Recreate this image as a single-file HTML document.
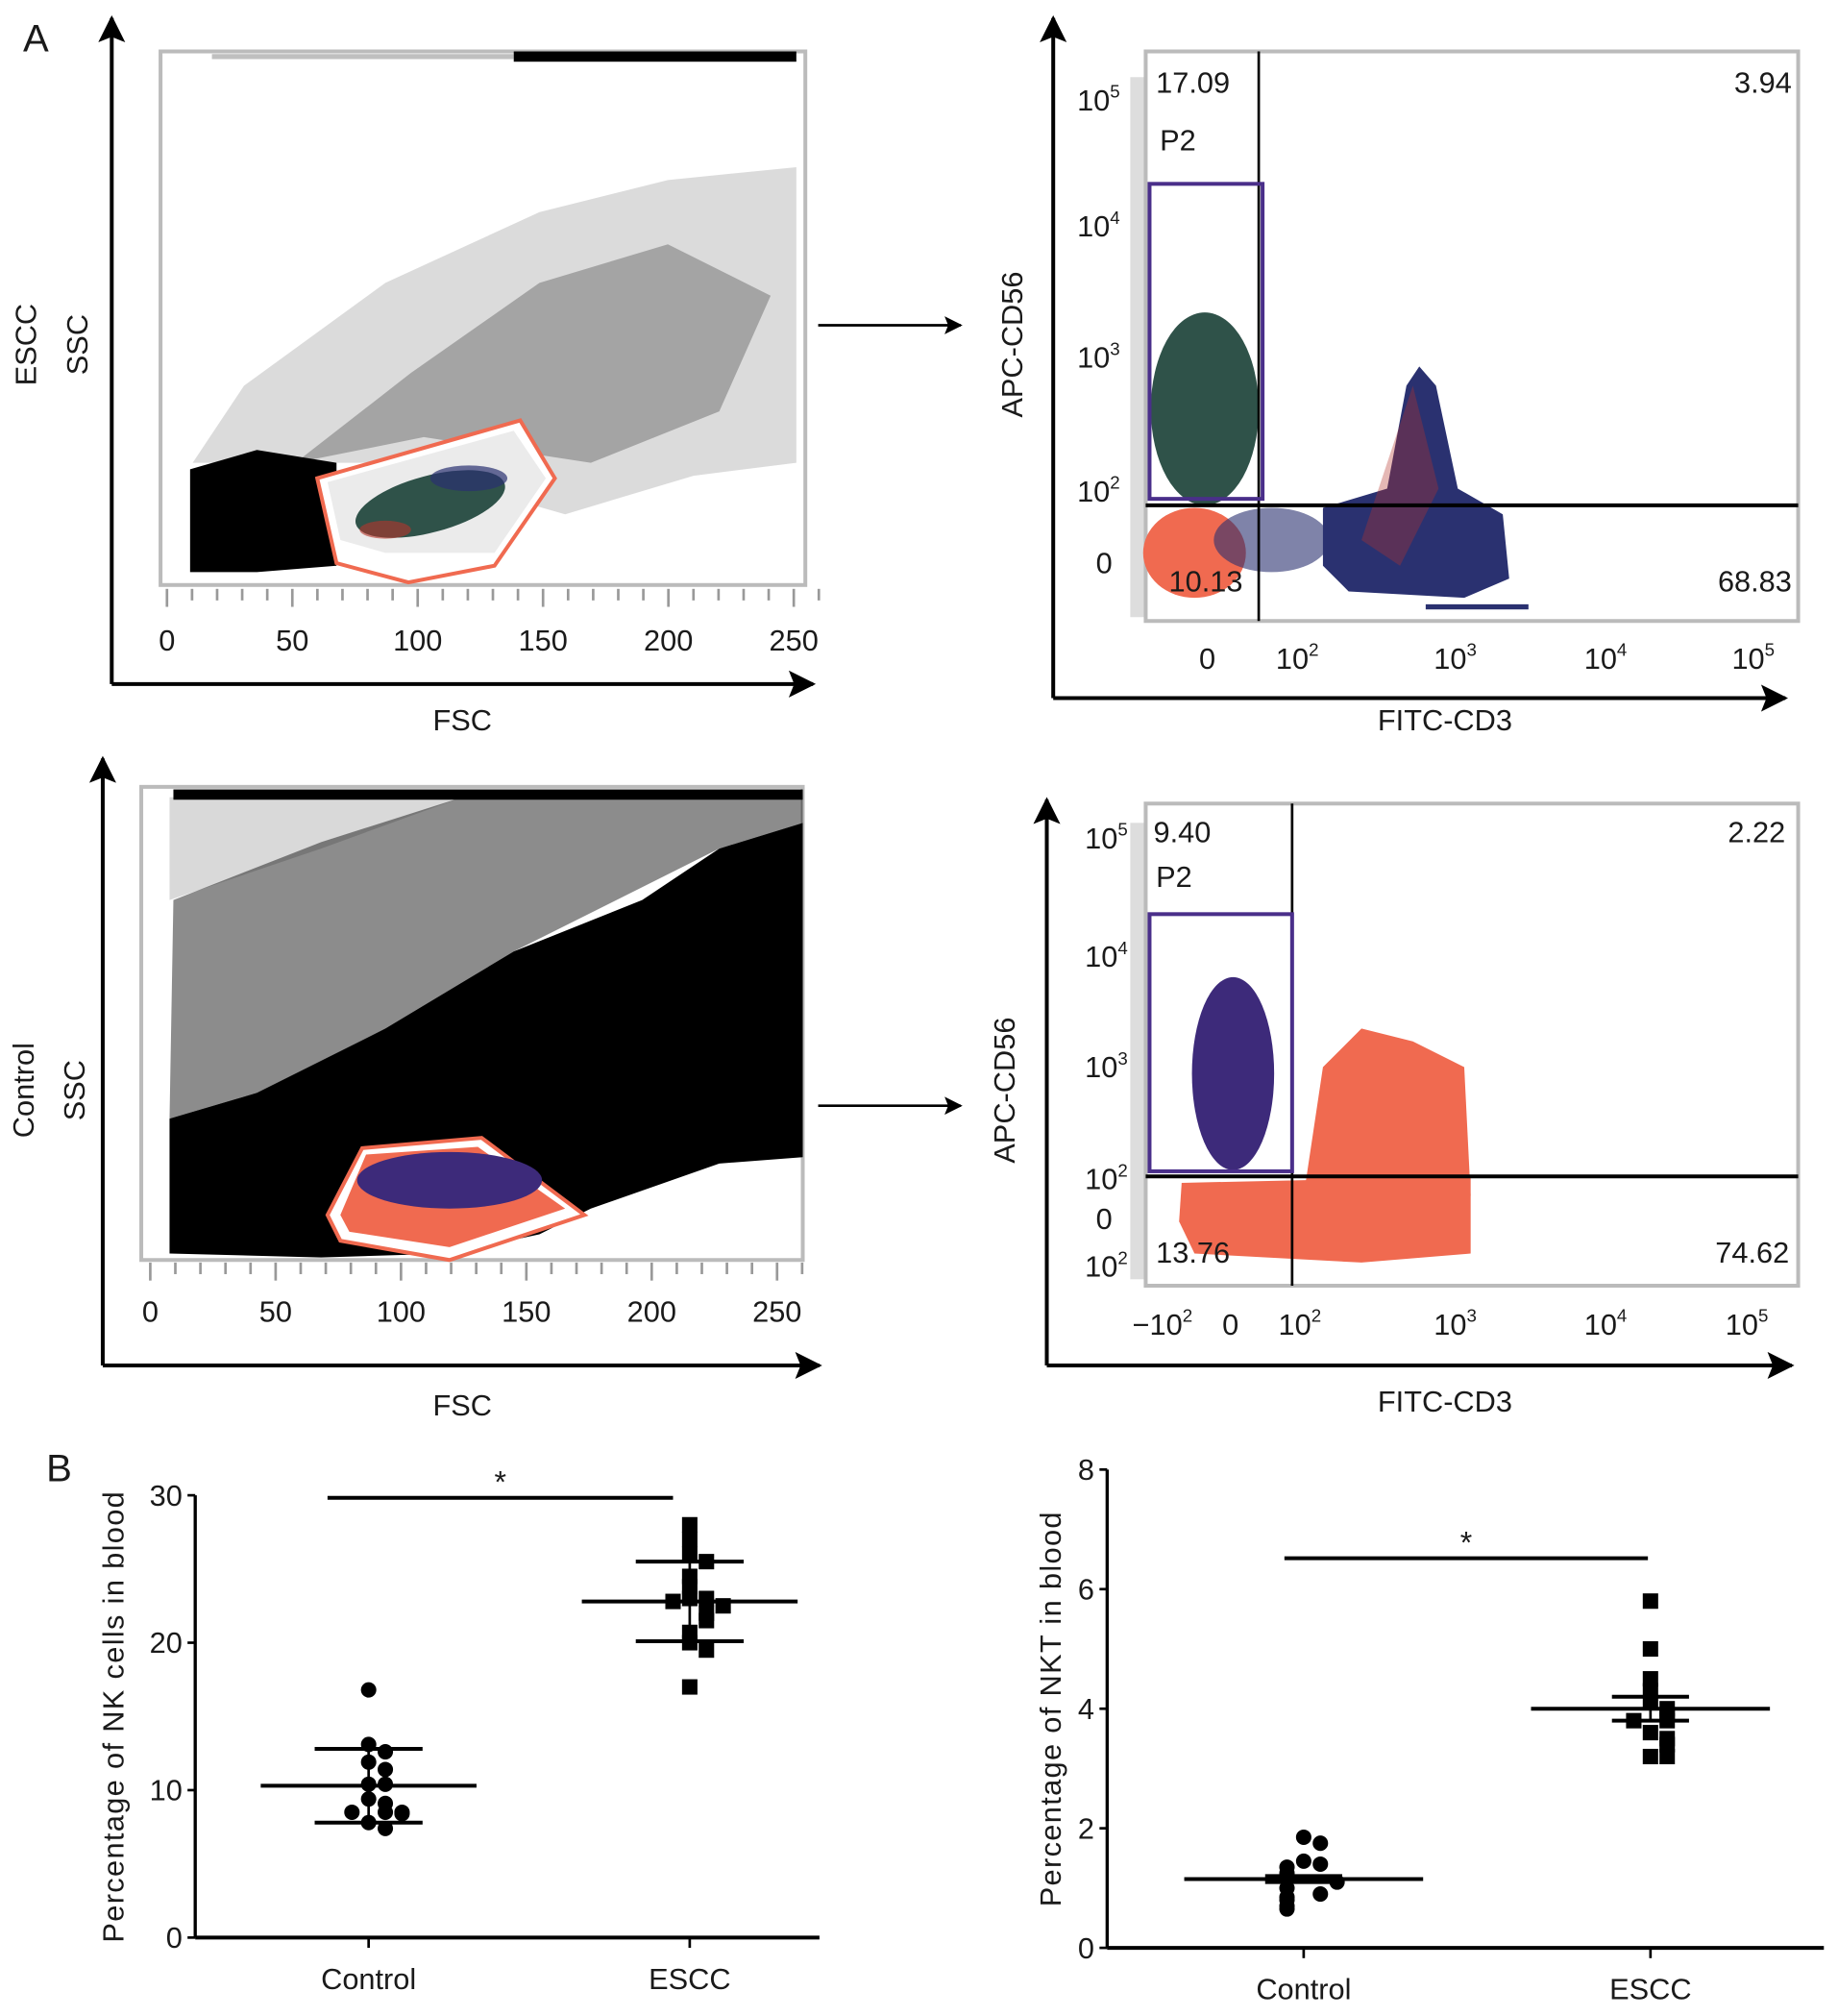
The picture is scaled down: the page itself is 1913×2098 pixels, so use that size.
<!DOCTYPE html>
<html><head><meta charset="utf-8"><style>
html,body{margin:0;padding:0;background:#fff}
svg{display:block}
text{font-family:"Liberation Sans",sans-serif;fill:#1a1a1a}
</style></head><body>
<svg id="fig" width="1913" height="2098" viewBox="0 0 1431 1568" preserveAspectRatio="none" xmlns="http://www.w3.org/2000/svg">
<defs>
<marker id="ah" viewBox="0 0 10 10" refX="9" refY="5" markerWidth="7" markerHeight="7" orient="auto"><path d="M0,0 L10,5 L0,10 L2,5 z" fill="#000"/></marker>
</defs>
<text x="18" y="40" font-size="30">A</text>
<text x="36" y="1152" font-size="30">B</text>

<!-- Top-left FSC/SSC ESCC -->
<g>
<line x1="87" y1="532" x2="87" y2="14" stroke="#000" stroke-width="3" marker-end="url(#ah)"/>
<line x1="87" y1="532" x2="633" y2="532" stroke="#000" stroke-width="3" marker-end="url(#ah)"/>
<rect x="125" y="40" width="502" height="415" fill="none" stroke="#bbb" stroke-width="3"/>
<path d="M150,360 L190,300 L300,220 L420,165 L520,140 L620,130 L620,360 L540,370 L440,400 L300,360 L200,360Z" fill="#000" opacity="0.14"/>
<path d="M230,360 L320,290 L420,220 L520,190 L600,230 L560,320 L460,360 L330,340Z" fill="#000" opacity="0.25"/>
<path d="M148,365 L200,350 L262,360 L262,440 L200,445 L148,445Z" fill="#000"/>
<rect x="400" y="40" width="220" height="8" fill="#000"/>
<path d="M165,42 L400,42 L400,46 L165,46Z" fill="#000" opacity="0.25"/>
<path d="M247,372 L405,327 L432,372 L385,440 L318,453 L262,438Z" fill="#fff" stroke="#f06a50" stroke-width="3"/>
<path d="M255,375 L400,335 L425,372 L385,430 L300,430 L265,420Z" fill="#000" opacity="0.08"/>
<ellipse cx="335" cy="392" rx="60" ry="22" fill="#2f5249" transform="rotate(-15 335 392)"/>
<ellipse cx="365" cy="372" rx="30" ry="10" fill="#2a3170" opacity="0.7"/>
<ellipse cx="300" cy="412" rx="20" ry="7" fill="#b5352c" opacity="0.6"/>
<g id="tlx"></g>
<text x="360" y="568" font-size="23" text-anchor="middle">FSC</text>
<text transform="translate(28 268) rotate(-90)" font-size="23" text-anchor="middle">ESCC</text>
<text transform="translate(68 268) rotate(-90)" font-size="23" text-anchor="middle">SSC</text>
</g>
<line x1="637" y1="253" x2="748" y2="253" stroke="#000" stroke-width="2" marker-end="url(#ah)"/>

<!-- Top-right -->
<g>
<line x1="820" y1="543" x2="820" y2="14" stroke="#000" stroke-width="3" marker-end="url(#ah)"/>
<line x1="820" y1="543" x2="1390" y2="543" stroke="#000" stroke-width="3" marker-end="url(#ah)"/>
<rect x="892" y="40" width="508" height="443" fill="none" stroke="#bbb" stroke-width="3"/>
<rect x="880" y="60" width="12" height="420" fill="#bbb" opacity="0.5"/>
<ellipse cx="938" cy="318" rx="42" ry="75" fill="#2f5249"/>
<ellipse cx="930" cy="430" rx="40" ry="35" fill="#f06a50"/>
<ellipse cx="990" cy="420" rx="45" ry="25" fill="#2a3170" opacity="0.6"/>
<path d="M1030,395 L1080,380 L1095,300 L1105,285 L1118,300 L1135,380 L1170,400 L1175,450 L1140,465 L1050,460 L1030,440Z" fill="#2a3170"/>
<path d="M1060,420 L1100,300 L1120,380 L1090,440Z" fill="#b5352c" opacity="0.35"/>
<rect x="1110" y="470" width="80" height="4" fill="#2a3170"/>
<line x1="980" y1="40" x2="980" y2="483" stroke="#000" stroke-width="2"/>
<line x1="892" y1="393" x2="1400" y2="393" stroke="#000" stroke-width="3"/>
<rect x="895" y="143" width="88" height="245" fill="none" stroke="#4a2f8a" stroke-width="3"/>
<text x="900" y="72" font-size="23">17.09</text><text x="1395" y="72" font-size="23" text-anchor="end">3.94</text>
<text x="903" y="117" font-size="23">P2</text><text x="910" y="460" font-size="23">10.13</text>
<text x="1395" y="460" font-size="23" text-anchor="end">68.83</text>
<g font-size="23" text-anchor="end">
<text x="872" y="86">10<tspan dy="-10" font-size="14">5</tspan></text>
<text x="872" y="184">10<tspan dy="-10" font-size="14">4</tspan></text>
<text x="872" y="286">10<tspan dy="-10" font-size="14">3</tspan></text>
<text x="872" y="390">10<tspan dy="-10" font-size="14">2</tspan></text>
<text x="866" y="446">0</text></g>
<g font-size="23" text-anchor="middle">
<text x="940" y="520">0</text><text x="1010" y="520">10<tspan dy="-10" font-size="14">2</tspan></text>
<text x="1133" y="520">10<tspan dy="-10" font-size="14">3</tspan></text><text x="1250" y="520">10<tspan dy="-10" font-size="14">4</tspan></text>
<text x="1365" y="520">10<tspan dy="-10" font-size="14">5</tspan></text></g>
<text x="1125" y="568" font-size="23" text-anchor="middle">FITC-CD3</text>
<text transform="translate(796 268) rotate(-90)" font-size="23" text-anchor="middle">APC-CD56</text>
</g>

<!-- Bottom-left -->
<g>
<line x1="80" y1="1062" x2="80" y2="590" stroke="#000" stroke-width="3" marker-end="url(#ah)"/>
<line x1="80" y1="1062" x2="638" y2="1062" stroke="#000" stroke-width="3" marker-end="url(#ah)"/>
<rect x="110" y="612" width="515" height="368" fill="none" stroke="#bbb" stroke-width="3"/>
<path d="M132,700 L132,620 L360,620 L250,660Z" fill="#000" opacity="0.15"/>
<path d="M132,870 L135,700 L250,655 L360,620 L625,618 L625,640 L560,660 L400,740 L300,800 L200,850Z" fill="#000" opacity="0.45"/>
<path d="M132,975 L132,870 L200,850 L300,800 L400,740 L500,700 L560,660 L625,640 L625,900 L560,905 L460,940 L420,960 L350,975 L250,978Z" fill="#000"/>
<rect x="135" y="614" width="490" height="8" fill="#000"/>
<path d="M255,945 L282,893 L375,885 L455,945 L350,980 L265,965Z" fill="#fff" stroke="#f06a50" stroke-width="3"/>
<path d="M265,945 L285,898 L372,892 L440,940 L350,970 L272,958Z" fill="#f06a50"/>
<ellipse cx="350" cy="918" rx="72" ry="22" fill="#3d2a7a"/>
<g id="blx"></g>
<text x="360" y="1101" font-size="23" text-anchor="middle">FSC</text>
<text transform="translate(26 848) rotate(-90)" font-size="23" text-anchor="middle">Control</text>
<text transform="translate(66 848) rotate(-90)" font-size="23" text-anchor="middle">SSC</text>
</g>
<line x1="637" y1="860" x2="748" y2="860" stroke="#000" stroke-width="2" marker-end="url(#ah)"/>

<!-- Bottom-right -->
<g>
<line x1="815" y1="1062" x2="815" y2="622" stroke="#000" stroke-width="3" marker-end="url(#ah)"/>
<line x1="815" y1="1062" x2="1395" y2="1062" stroke="#000" stroke-width="3" marker-end="url(#ah)"/>
<rect x="892" y="625" width="508" height="375" fill="none" stroke="#bbb" stroke-width="3"/>
<rect x="880" y="640" width="12" height="355" fill="#bbb" opacity="0.5"/>
<path d="M1015,930 L1030,830 L1060,800 L1100,810 L1140,830 L1145,930Z" fill="#f06a50"/>
<path d="M920,920 L1145,915 L1145,975 L1060,982 L930,975 L918,950Z" fill="#f06a50"/>
<ellipse cx="960" cy="835" rx="32" ry="75" fill="#3d2a7a"/>
<line x1="1006" y1="625" x2="1006" y2="1000" stroke="#000" stroke-width="2"/>
<line x1="892" y1="915" x2="1400" y2="915" stroke="#000" stroke-width="3"/>
<rect x="895" y="711" width="111" height="200" fill="none" stroke="#4a2f8a" stroke-width="3"/>
<text x="898" y="655" font-size="23">9.40</text><text x="1390" y="655" font-size="23" text-anchor="end">2.22</text>
<text x="900" y="690" font-size="23">P2</text><text x="900" y="982" font-size="23">13.76</text>
<text x="1393" y="982" font-size="23" text-anchor="end">74.62</text>
<g font-size="23" text-anchor="end">
<text x="878" y="660">10<tspan dy="-10" font-size="14">5</tspan></text>
<text x="878" y="752">10<tspan dy="-10" font-size="14">4</tspan></text>
<text x="878" y="838">10<tspan dy="-10" font-size="14">3</tspan></text>
<text x="878" y="925">10<tspan dy="-10" font-size="14">2</tspan></text>
<text x="866" y="956">0</text>
<text x="878" y="993">10<tspan dy="-10" font-size="14">2</tspan></text></g>
<g font-size="23" text-anchor="middle">
<text x="905" y="1038">−10<tspan dy="-10" font-size="14">2</tspan></text><text x="958" y="1038">0</text>
<text x="1012" y="1038">10<tspan dy="-10" font-size="14">2</tspan></text>
<text x="1133" y="1038">10<tspan dy="-10" font-size="14">3</tspan></text><text x="1250" y="1038">10<tspan dy="-10" font-size="14">4</tspan></text>
<text x="1360" y="1038">10<tspan dy="-10" font-size="14">5</tspan></text></g>
<text x="1125" y="1098" font-size="23" text-anchor="middle">FITC-CD3</text>
<text transform="translate(790 848) rotate(-90)" font-size="23" text-anchor="middle">APC-CD56</text>
</g>

<g id="nk"></g>
<g id="nkt"></g>
</svg>
<script>
const NS="http://www.w3.org/2000/svg";
const groups=["Control","ESCC"];
const nkControl=[16.8,13.1,12.6,11.9,11.4,10.4,10.4,9.4,9.1,8.5,8.5,8.5,8.4,7.8,7.4];
const nkEscc=[28.0,27.0,26.0,25.5,24.5,23.8,23.0,23.0,22.8,22.5,22.0,21.5,20.7,20.0,19.5,17.0];
const nkMean=[10.3,22.8];
const nkSD=[2.5,2.7];
const nkTicks=[0,10,20,30];
const nktControl=[1.85,1.75,1.45,1.4,1.35,1.25,1.2,1.15,1.1,1.0,0.9,0.85,0.8,0.7,0.65];
const nktEscc=[5.8,5.0,4.5,4.3,4.1,4.0,3.9,3.8,3.8,3.6,3.5,3.4,3.2,3.2];
const nktMean=[1.15,4.0];
const nktSD=[0.05,0.2];
const nktTicks=[0,2,4,6,8];
const fscTicks=[0,50,100,150,200,250];

function el(tag,attrs,parent){const e=document.createElementNS(NS,tag);for(const k in attrs)e.setAttribute(k,attrs[k]);parent.appendChild(e);return e;}

function fscAxis(gid,x0,x1,y0,ly){
  const g=document.getElementById(gid);
  const sx=v=>x0+(x1-x0)*v/250;
  for(let v=0;v<=260;v+=10){el('line',{x1:sx(v),y1:y0,x2:sx(v),y2:y0+(v%50===0?14:9),stroke:'#999','stroke-width':2},g);}
  fscTicks.forEach(v=>{const t=el('text',{x:sx(v),y:ly,'font-size':23,'text-anchor':'middle'},g);t.textContent=v;
    
    });
}
fscAxis('tlx',130,618,458,506);
fscAxis('blx',117,605,982,1028);

function dotPlot(gid,o){
  const g=document.getElementById(gid);
  const sy=v=>o.y0-(o.y0-o.y1)*v/o.max;
  el('line',{x1:o.ax,y1:sy(0),x2:o.ax,y2:sy(o.max),stroke:'#000','stroke-width':2.5},g);
  el('line',{x1:o.ax,y1:sy(0),x2:o.xEnd,y2:sy(0),stroke:'#000','stroke-width':3},g);
  o.ticks.forEach(v=>{el('line',{x1:o.ax-6,y1:sy(v),x2:o.ax,y2:sy(v),stroke:'#000','stroke-width':2},g);
    const t=el('text',{x:o.ax-10,y:sy(v)+8,'font-size':23,'text-anchor':'end'},g);t.textContent=v;
    
    });
  const yl=el('text',{transform:`translate(${o.ylx} ${(sy(0)+sy(o.max))/2}) rotate(-90)`,'font-size':23,'text-anchor':'middle','letter-spacing':'1'},g);
  yl.textContent=o.title;
  
  
  groups.forEach((name,i)=>{
    const cx=o.gx[i];
    el('line',{x1:cx,y1:sy(0),x2:cx,y2:sy(0)+8,stroke:'#000','stroke-width':2},g);
    const t=el('text',{x:cx,y:sy(0)+40,'font-size':23,'text-anchor':'middle'},g);t.textContent=name;
    
    
    const vals=o.data[i];const placed=[];
    vals.forEach(v=>{
      const near=placed.filter(p=>Math.abs(p-v)<o.max*0.02).length;placed.push(v);
      const off=near===0?0:(near%2?1:-1)*Math.ceil(near/2)*o.jit;
      let m;
      if(i===0){m=el('circle',{cx:cx+off,cy:sy(v),r:6,fill:'#000'},g);}
      else{m=el('rect',{x:cx+off-6,y:sy(v)-6,width:12,height:12,fill:'#000'},g);}
      
      
    });
    const ml=el('line',{x1:cx-o.mw,y1:sy(o.mean[i]),x2:cx+o.mw,y2:sy(o.mean[i]),stroke:'#000','stroke-width':3},g);
    
    
    [1,-1].forEach(s=>{const yv=sy(o.mean[i]+s*o.sd[i]);
      el('line',{x1:cx-o.sw,y1:yv,x2:cx+o.sw,y2:yv,stroke:'#000','stroke-width':3},g);});
    el('line',{x1:cx,y1:sy(o.mean[i]+o.sd[i]),x2:cx,y2:sy(o.mean[i]-o.sd[i]),stroke:'#000','stroke-width':2},g);
  });
  el('line',{x1:o.sig[0],y1:o.sig[2],x2:o.sig[1],y2:o.sig[2],stroke:'#000','stroke-width':3},g);
  const a=el('text',{x:(o.sig[0]+o.sig[1])/2,y:o.sig[2]-4,'font-size':24,'text-anchor':'middle'},g);a.textContent='*';
  
  
}
dotPlot('nk',{ax:152,y0:1507,y1:1163,max:30,xEnd:638,ticks:nkTicks,gx:[287,537],data:[nkControl,nkEscc],mean:nkMean,sd:nkSD,mw:84,sw:42,jit:13,ylx:96,title:'Percentage of NK cells in blood',sig:[255,524,1165]});
dotPlot('nkt',{ax:862,y0:1515,y1:1143,max:8,xEnd:1420,ticks:nktTicks,gx:[1015,1285],data:[nktControl,nktEscc],mean:nktMean,sd:nktSD,mw:93,sw:30,jit:13,ylx:826,title:'Percentage of NKT in blood',sig:[1000,1283,1212]});
</script>
</body></html>
